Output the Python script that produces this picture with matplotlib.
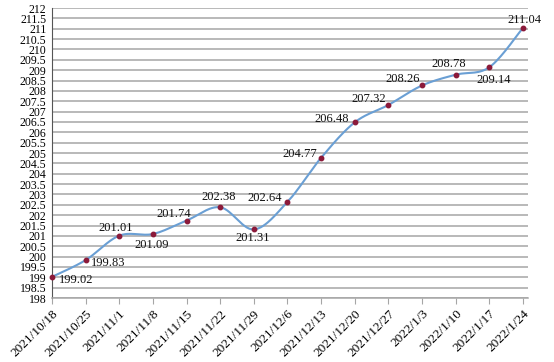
import numpy as np
import matplotlib.pyplot as plt

dates = ["2021/10/18", "2021/10/25", "2021/11/1", "2021/11/8", "2021/11/15",
         "2021/11/22", "2021/11/29", "2021/12/6", "2021/12/13", "2021/12/20",
         "2021/12/27", "2022/1/3", "2022/1/10", "2022/1/17", "2022/1/24"]
values = [199.02, 199.83, 201.01, 201.09, 201.74, 202.38, 201.31, 202.64,
          204.77, 206.48, 207.32, 208.26, 208.78, 209.14, 211.04]
# label centre offsets in pixels (dx right, dy up)
offsets = [(24.5, -3.5), (23, -3), (-4, 8), (-1.5, -11), (-13, 7), (-2, 10), (-1, -9), (-22.5, 4),
           (-21.5, 3.5), (-23, 3), (-20, 6), (-19, 6), (-7, 11), (4, -13), (1, 8)]

font = ["Liberation Serif", "DejaVu Serif"]
plt.rcParams['font.family'] = font

fig = plt.figure(figsize=(5.54, 3.62), dpi=100)
ax = fig.add_axes([52 / 554, 64 / 362, 476 / 554, 290 / 362])

x = np.arange(len(values), dtype=float)
y = np.array(values)

# smoothed line like a spreadsheet chart (Catmull-Rom bezier)
px = np.concatenate([[x[0]], x, [x[-1]]])
py = np.concatenate([[y[0]], y, [y[-1]]])
t = np.linspace(0, 1, 30)[:, None]
sx, sy = [], []
for i in range(1, len(px) - 2):
    p0 = np.array([px[i], py[i]])
    p3 = np.array([px[i + 1], py[i + 1]])
    p1 = p0 + (np.array([px[i + 1], py[i + 1]]) - np.array([px[i - 1], py[i - 1]])) / 6
    p2 = p3 - (np.array([px[i + 2], py[i + 2]]) - np.array([px[i], py[i]])) / 6
    b = ((1 - t) ** 3) * p0 + 3 * ((1 - t) ** 2) * t * p1 + 3 * (1 - t) * t ** 2 * p2 + t ** 3 * p3
    sx.extend(b[:, 0])
    sy.extend(b[:, 1])

ax.plot(sx, sy, color="#6a9fd4", lw=1.5, zorder=3, clip_on=False)
ax.plot(x, y, "o", ms=3.2, color="#8b1a3a", zorder=4, clip_on=False)

for xi, yi, v, (dx, dy) in zip(x, y, values, offsets):
    ax.annotate(f"{v:.2f}", (xi, yi), xytext=(dx * 0.72, dy * 0.72), textcoords="offset points",
                ha="center", va="center", fontsize=9, color="#111111")

ax.set_xlim(0, 14.15)
ax.set_ylim(198, 212)
ax.set_yticks(np.arange(198, 212.01, 0.5))
ax.set_yticklabels([f"{v:g}" for v in np.arange(198, 212.01, 0.5)], fontsize=8.5)
ax.set_xticks(x)
ax.set_xticklabels(dates, rotation=45, ha="right", rotation_mode="anchor", fontsize=9.5)

ax.grid(axis="y", color="#a6a6a6", lw=1.1)
ax.set_axisbelow(True)
for s in ["top", "right"]:
    ax.spines[s].set_visible(False)
ax.spines["left"].set_color("#555555")
ax.spines["bottom"].set_color("#a6a6a6")
ax.spines["bottom"].set_linewidth(1.1)
ax.tick_params(axis="y", length=0, pad=4)
ax.tick_params(axis="x", length=4, color="#a6a6a6", pad=3)

fig.savefig("out.png", dpi=100)
